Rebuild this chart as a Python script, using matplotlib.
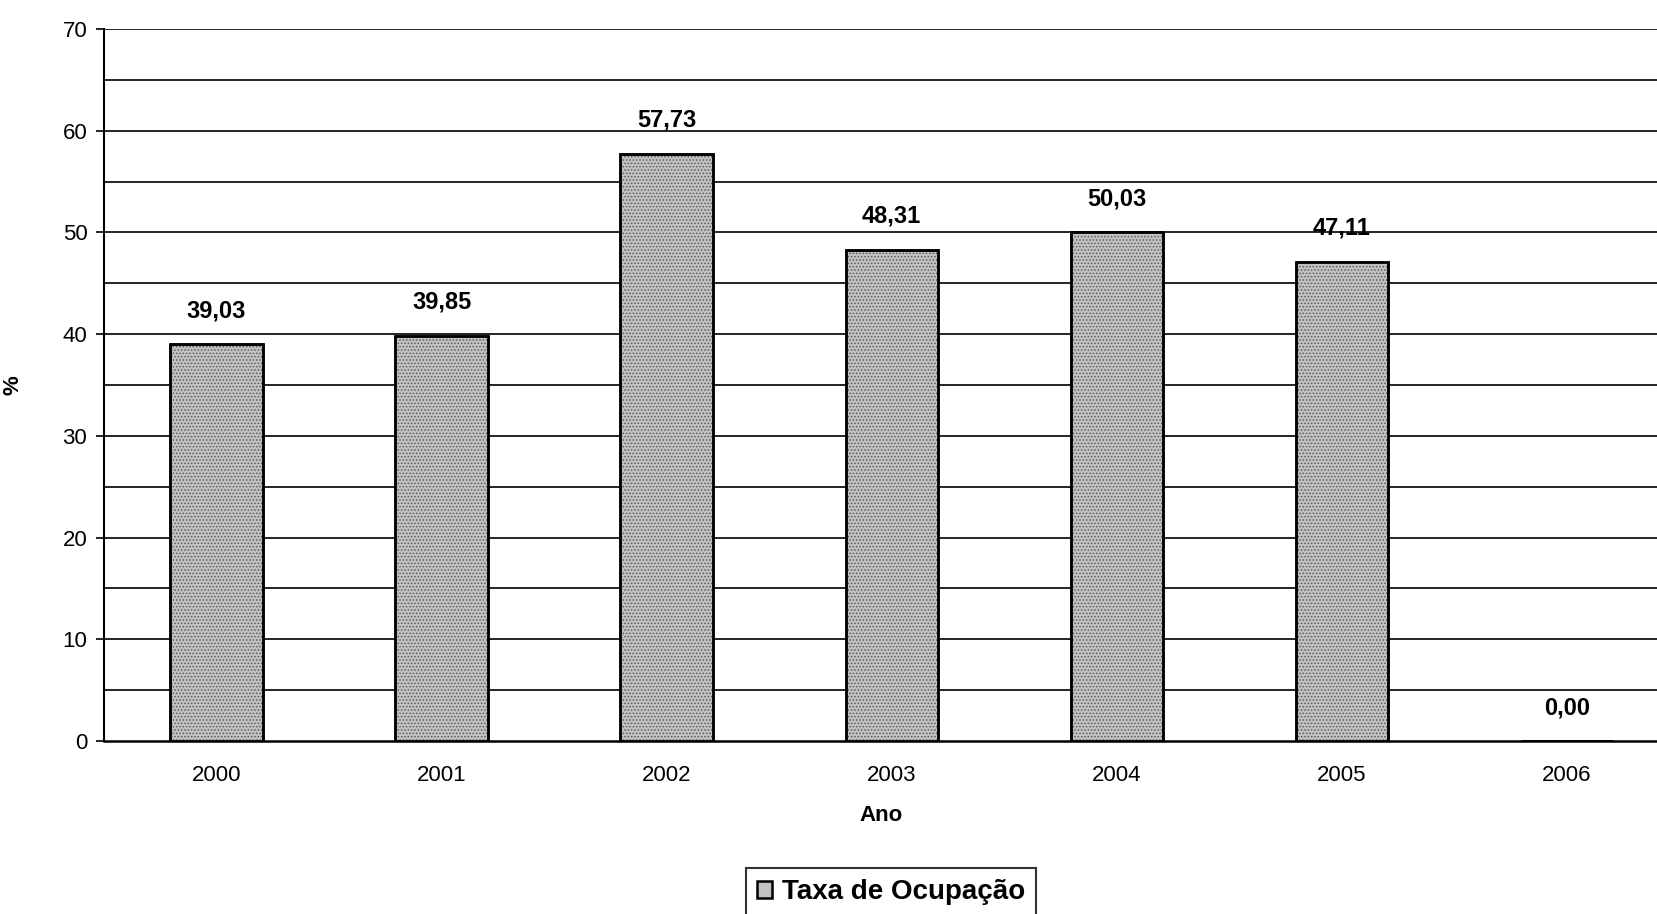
import matplotlib
matplotlib.use("Agg")
import matplotlib.pyplot as plt
import numpy as np

anos = ["2000", "2001", "2002", "2003", "2004", "2005", "2006"]
taxa = [39.03, 39.85, 57.73, 48.31, 50.03, 47.11, 0.00]
rotulos = ["39,03", "39,85", "57,73", "48,31", "50,03", "47,11", "0,00"]
yticks = [0, 10, 20, 30, 40, 50, 60, 70]
legenda = "Taxa de Ocupação"

plt.rcParams['font.family'] = ['Liberation Sans', 'DejaVu Sans']
plt.rcParams['hatch.linewidth'] = 0.7

fig = plt.figure(figsize=(16.58, 9.14), dpi=100)
ax = fig.add_axes([104/1658, (914-741)/914, 1 - 104/1658, (741-29)/914])

x = np.arange(len(anos))
w = 0.41
# gridlines
for v in np.arange(5, 71, 5):
    ax.axhline(v, color='black', lw=1.2, zorder=1)

bars = ax.bar(x, taxa, width=w, color='#c2c2c2', edgecolor='black', linewidth=1.8,
              zorder=3, label=legenda)
# stipple texture
ax.bar(x, taxa, width=w, color='none', edgecolor='#5a5a5a', hatch='.....',
       linewidth=0, zorder=3.5)
ax.bar(x, taxa, width=w, color='none', edgecolor='black', linewidth=1.8, zorder=4)

for xi, v, t in zip(x, taxa, rotulos):
    ax.annotate(t, (xi, v), xytext=(0, 24), textcoords='offset points',
                ha='center', va='center', fontsize=17, fontweight='bold', zorder=5)

ax.set_xlim(-0.5, 6.405)
ax.set_ylim(0, 70)
ax.set_yticks(yticks)
ax.set_xticks(x)
ax.set_xticklabels(anos)
ax.tick_params(axis='y', length=6, width=1.2, pad=6, labelsize=16, direction='out')
ax.tick_params(axis='x', length=0, pad=17, labelsize=16)

for s in ['top', 'right']:
    ax.spines[s].set_visible(False)
ax.spines['left'].set_linewidth(1.5)
ax.spines['bottom'].set_linewidth(1.8)

ax.set_xlabel("Ano", fontsize=16, fontweight='bold', labelpad=14)
ax.set_ylabel("%", fontsize=16, fontweight='bold')
ax.yaxis.set_label_coords(-0.052, 0.50)

leg = fig.legend(handles=[bars], labels=[legenda], loc='upper center',
                 bbox_to_anchor=(891/1658, (914-868)/914),
                 prop={'weight': 'bold', 'size': 20},
                 frameon=True, fancybox=False, edgecolor='black',
                 handlelength=0.55, handleheight=0.55, handletextpad=0.35,
                 borderpad=0.4, borderaxespad=0)
leg.get_frame().set_linewidth(1.5)

fig.savefig("out.png", dpi=100)
